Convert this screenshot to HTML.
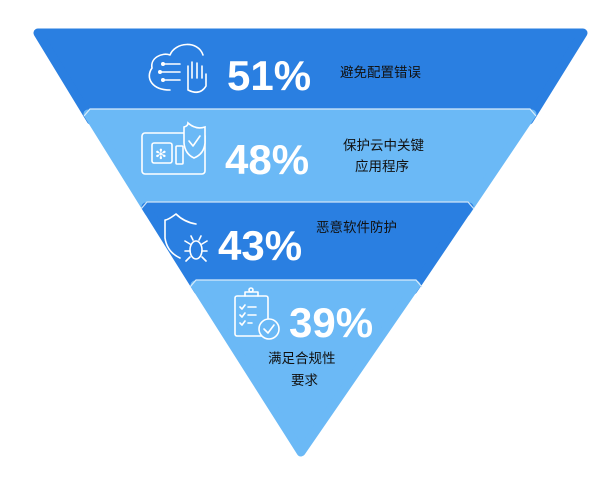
<!DOCTYPE html>
<html><head><meta charset="utf-8"><style>
body{margin:0;background:#fff;width:608px;height:478px;overflow:hidden}
svg{display:block}
.p{font-family:"Liberation Sans",sans-serif;font-weight:bold;fill:#fff;font-size:42px}
.t{font-family:"Liberation Sans","Noto Sans CJK SC",sans-serif;fill:#111;font-size:13.5px}
.i{fill:none;stroke:#fff;stroke-width:1.6;stroke-linecap:round;stroke-linejoin:round}
</style></head><body>
<svg width="608" height="478" viewBox="0 0 608 478">
<polygon points="38,33 583,33 529,120 91,120" fill="#2a7fe1" stroke="#2a7fe1" stroke-width="9" stroke-linejoin="round"/>
<polygon points="88,114 532,114 466,212 149,212" fill="#6bb9f6" stroke="#6bb9f6" stroke-width="9" stroke-linejoin="round"/>
<polyline points="84,116 90,109 530,109 536,116" fill="none" stroke="#d8ecfb" stroke-width="1.2"/>
<polygon points="146,207 469,207 413,290 198,290" fill="#2a7fe1" stroke="#2a7fe1" stroke-width="9" stroke-linejoin="round"/>
<polyline points="141,209 147,202 468,202 474,209" fill="none" stroke="#cfe4f8" stroke-width="1.2"/>
<polygon points="195,285 416,285 301,452" fill="#6bb9f6" stroke="#6bb9f6" stroke-width="9" stroke-linejoin="round"/>
<polyline points="190,287 196,280 416,280 422,287" fill="none" stroke="#d8ecfb" stroke-width="1.2"/>

<!-- icon 1 -->
<path class="i" d="M170,90 C152,90 145,78 152,68 C150,58 162,52 170,55 C175,42 198,40 203,55"/>
<line class="i" x1="163" y1="64" x2="180" y2="64"/><circle cx="163" cy="64" r="2" fill="#fff"/>
<line class="i" x1="160" y1="72" x2="180" y2="72"/><circle cx="160" cy="72" r="2" fill="#fff"/>
<line class="i" x1="163" y1="80" x2="180" y2="80"/><circle cx="163" cy="80" r="2" fill="#fff"/>
<path class="i" d="M188,90 L188,66 M192,78 L192,62 M197,78 L197,63 M202,78 L202,66 M188,90 Q200,96 206,86 L206,74"/>
<text class="p" x="227" y="90">51%</text>
<text class="t" x="340" y="77">避免配置错误</text>

<!-- icon 2 -->
<rect class="i" x="142" y="133" width="63" height="41" rx="3"/>
<rect class="i" x="152" y="143" width="20" height="20" rx="2"/>
<text x="155" y="159" fill="#fff" font-size="14" font-family="DejaVu Sans">✻</text>
<rect class="i" x="176" y="146" width="7" height="18" rx="1"/>
<path d="M188,123 Q196,130 205,127 L205,143 Q204,154 194,158 Q185,154 184,143 L184,127 Q188,126 188,123Z" fill="#6bb9f6" stroke="#fff" stroke-width="1.6"/>
<path class="i" d="M189,141 L193,146 L200,136"/>
<text class="p" x="225" y="174">48%</text>
<text class="t" x="343" y="150">保护云中关键</text>
<text class="t" x="355" y="171">应用程序</text>

<!-- icon 3 -->
<path class="i" d="M196,224 Q184,222 176,214 Q168,220 165,220 L165,238 Q167,252 180,258"/>
<ellipse class="i" cx="196" cy="250" rx="6" ry="9"/>
<path class="i" d="M190,244 L185,241 M190,251 L185,251 M190,257 L186,261 M202,244 L207,241 M202,251 L207,251 M202,257 L206,261 M193,240 L191,236 M199,240 L201,236"/>
<text class="p" x="218" y="260">43%</text>
<text class="t" x="316" y="232">恶意软件防护</text>

<!-- icon 4 -->
<rect class="i" x="235" y="296" width="33" height="40" rx="2"/>
<path class="i" d="M245,296 L245,292 L258,292 L258,296"/><circle class="i" cx="251" cy="290" r="2"/>
<path class="i" d="M240,307 L242,309 L245,305 M248,307 L256,307 M240,315 L242,317 L245,313 M248,315 L256,315 M240,323 L242,325 L245,321 M248,323 L252,323"/>
<circle cx="269" cy="329" r="10" fill="#6bb9f6" stroke="#fff" stroke-width="1.6"/>
<path class="i" d="M264,329 L268,333 L274,325"/>
<text class="p" x="289" y="337">39%</text>
<text class="t" x="268" y="363">满足合规性</text>
<text class="t" x="291" y="385">要求</text>
</svg>
</body></html>
